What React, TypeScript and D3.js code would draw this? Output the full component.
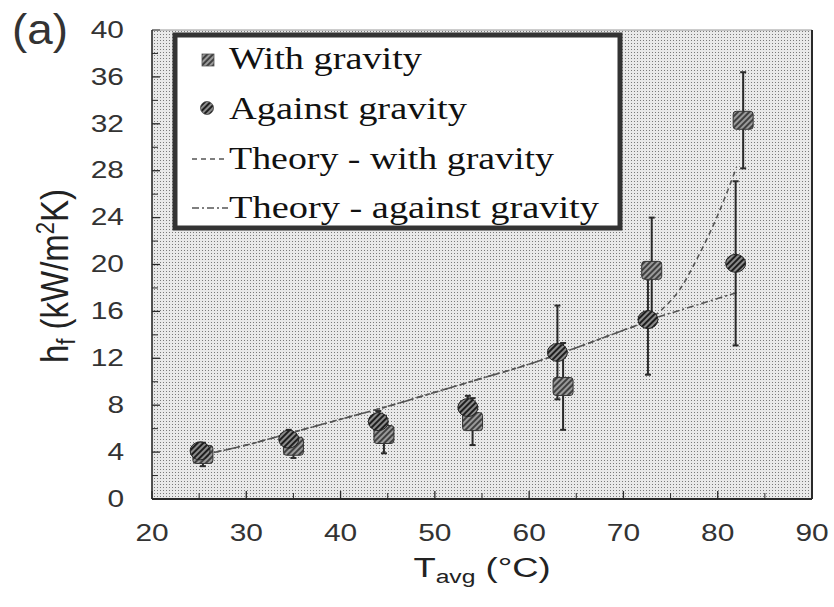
import React from "react";
import * as d3 from "d3";

const withX = [25.4, 35, 44.6, 54, 63.6, 73, 82.7];
const withY = [3.8, 4.5, 5.5, 6.6, 9.6, 19.5, 32.3];
const withErr = [1.0, 1.0, 1.6, 2.0, 3.7, 4.5, 4.1];

const againstX = [25.1, 34.5, 44, 53.5, 63, 72.6, 81.9];
const againstY = [4.1, 5.1, 6.6, 7.8, 12.5, 15.3, 20.1];
const againstErr = [0.7, 0.8, 0.9, 1.0, 4.0, 4.7, 7.0];

const theoryWithX = [25, 30, 35, 40, 45, 50, 55, 60, 65, 70, 72, 74, 76, 78, 80, 82];
const theoryWithY = [3.7, 4.6, 5.7, 6.8, 7.9, 9.1, 10.3, 11.5, 12.9, 14.4, 15.0, 16.1, 17.9, 20.8, 24.2, 28.3];
const theoryAgainstX = [25, 30, 35, 40, 45, 50, 55, 60, 65, 70, 72, 74, 76, 78, 80, 82];
const theoryAgainstY = [3.7, 4.6, 5.7, 6.8, 7.9, 9.1, 10.3, 11.5, 12.9, 14.4, 15.0, 15.6, 16.1, 16.6, 17.1, 17.6];

const xTicks = [20, 30, 40, 50, 60, 70, 80, 90];
const yTicks = [0, 4, 8, 12, 16, 20, 24, 28, 32, 36, 40];
const legendLabels = ["With gravity", "Against gravity", "Theory - with gravity", "Theory - against gravity"];
const legendWidths = [193, 238, 325, 370];

const W = 834, H = 607;
const SX = 1.3;
const x = d3.scaleLinear().domain([20, 90]).range([152, 812]);
const y = d3.scaleLinear().domain([0, 40]).range([499, 30]);

const SANS = "'Liberation Sans', Arial, sans-serif";
const SERIF = "'Liberation Serif', 'Times New Roman', serif";

export default function App() {
  const line = d3.line<number>().curve(d3.curveMonotoneX);
  const pathWith = line(theoryWithX.map((v, i) => [x(v), y(theoryWithY[i])]) as any);
  const pathAgainst = line(theoryAgainstX.map((v, i) => [x(v), y(theoryAgainstY[i])]) as any);
  const minorX = d3.range(25, 90, 10);
  const minorY = d3.range(2, 40, 4);
  const ink = "#2a2a2a";
  return (
    <svg width={W} height={H} style={{ position: "absolute", left: 0, top: 0, background: "#fff" }}>
      <defs>
        <pattern id="stip" width="3" height="3" patternUnits="userSpaceOnUse">
          <rect width="3" height="3" fill="#e9e9e9" />
          <rect x="1" y="1" width="1" height="1" fill="#7a7a7a" />
        </pattern>
        <pattern id="hatch" width="4" height="4" patternUnits="userSpaceOnUse" patternTransform="rotate(45)">
          <rect width="4" height="4" fill="#8a8a8a" />
          <line x1="1" y1="0" x2="1" y2="4" stroke="#111" strokeWidth="1.8" />
        </pattern>
        <pattern id="hatchSq" width="4" height="4" patternUnits="userSpaceOnUse" patternTransform="rotate(45)">
          <rect width="4" height="4" fill="#9a9a9a" />
          <line x1="1" y1="0" x2="1" y2="4" stroke="#222" strokeWidth="1.5" />
        </pattern>
      </defs>
      <rect x={152} y={30} width={660} height={469} fill="url(#stip)" />

      {xTicks.map((t) => (
        <line key={"xt" + t} x1={x(t)} x2={x(t)} y1={499} y2={491} stroke={ink} strokeWidth={1.3} />
      ))}
      {minorX.map((t) => (
        <line key={"xm" + t} x1={x(t)} x2={x(t)} y1={499} y2={493} stroke={ink} strokeWidth={1} />
      ))}
      {yTicks.map((t) => (
        <line key={"yt" + t} x1={152} x2={160} y1={y(t)} y2={y(t)} stroke={ink} strokeWidth={1.3} />
      ))}
      {minorY.map((t) => (
        <line key={"ym" + t} x1={152} x2={158} y1={y(t)} y2={y(t)} stroke={ink} strokeWidth={1} />
      ))}

      <path d={pathWith || ""} fill="none" stroke="#555" strokeWidth={1.6} strokeDasharray="5 4" />
      <path d={pathAgainst || ""} fill="none" stroke="#555" strokeWidth={1.6} strokeDasharray="7 3 2 3" />

      {withX.map((v, i) => (
        <g key={"we" + i} stroke={ink} strokeWidth={2}>
          <line x1={x(v)} x2={x(v)} y1={y(withY[i] - withErr[i])} y2={y(withY[i] + withErr[i])} />
          <line x1={x(v) - 3} x2={x(v) + 3} y1={y(withY[i] - withErr[i])} y2={y(withY[i] - withErr[i])} />
          <line x1={x(v) - 3} x2={x(v) + 3} y1={y(withY[i] + withErr[i])} y2={y(withY[i] + withErr[i])} />
        </g>
      ))}
      {againstX.map((v, i) => (
        <g key={"ae" + i} stroke={ink} strokeWidth={2}>
          <line x1={x(v)} x2={x(v)} y1={y(againstY[i] - againstErr[i])} y2={y(againstY[i] + againstErr[i])} />
          <line x1={x(v) - 3} x2={x(v) + 3} y1={y(againstY[i] - againstErr[i])} y2={y(againstY[i] - againstErr[i])} />
          <line x1={x(v) - 3} x2={x(v) + 3} y1={y(againstY[i] + againstErr[i])} y2={y(againstY[i] + againstErr[i])} />
        </g>
      ))}

      {withX.map((v, i) => (
        <rect key={"wm" + i} x={x(v) - 10} y={y(withY[i]) - 9} width={20} height={18} rx={3}
          fill="url(#hatchSq)" stroke="#333" strokeWidth={1} />
      ))}
      {againstX.map((v, i) => (
        <ellipse key={"am" + i} cx={x(v)} cy={y(againstY[i])} rx={10} ry={9}
          fill="url(#hatch)" stroke="#222" strokeWidth={1} />
      ))}

      <line x1={152} x2={812} y1={30} y2={30} stroke="#999" strokeWidth={1} />
      <line x1={152} x2={152} y1={30} y2={499} stroke={ink} strokeWidth={1.6} />
      <line x1={152} x2={812} y1={499} y2={499} stroke={ink} strokeWidth={2} />
      <line x1={812} x2={812} y1={30} y2={499} stroke={ink} strokeWidth={2} />

      <rect x={175} y={35} width={445} height={193} fill="#fff" stroke="#333" strokeWidth={5} />
      <rect x={202} y={54} width={12} height={12} fill="url(#hatchSq)" stroke="#555" strokeWidth={0.8} />
      <circle cx={207} cy={108} r={6.5} fill="url(#hatch)" stroke="#444" strokeWidth={0.8} />
      <line x1={192} x2={228} y1={159} y2={159} stroke="#555" strokeWidth={1.6} strokeDasharray="5 4" />
      <line x1={192} x2={228} y1={208} y2={208} stroke="#555" strokeWidth={1.6} strokeDasharray="7 3 2 3" />
      {legendLabels.map((t, i) => (
        <text key={"lg" + i} x={229} y={[69, 119, 169, 218][i]} fontFamily={SERIF} fontSize={31}
          fill="#111" textLength={legendWidths[i]} lengthAdjust="spacingAndGlyphs">{t}</text>
      ))}

      {yTicks.map((t) => (
        <g key={"yl" + t} transform={`translate(124,${y(t)}) scale(${SX},1)`}>
          <text x={0} y={0} textAnchor="end" dominantBaseline="central" fontFamily={SANS} fontSize={23} fill="#333">{t}</text>
        </g>
      ))}
      {xTicks.map((t) => (
        <g key={"xl" + t} transform={`translate(${x(t)},533) scale(${SX},1)`}>
          <text x={0} y={0} textAnchor="middle" dominantBaseline="central" fontFamily={SANS} fontSize={23} fill="#333">{t}</text>
        </g>
      ))}

      <g transform={`translate(482,577) scale(${SX},1)`}>
        <text textAnchor="middle" fontFamily={SANS} fontSize={28} fill="#222">
          T<tspan fontSize={19} dy={6}>avg</tspan><tspan dy={-6}> (°C)</tspan>
        </text>
      </g>
      <g transform={`translate(68,276) rotate(-90) scale(1,1.2)`}>
        <text textAnchor="middle" fontFamily={SANS} fontSize={33} fill="#222">
          h<tspan fontSize={22} dy={6}>f</tspan><tspan dy={-6}> (kW/m</tspan><tspan fontSize={22} dy={-12}>2</tspan><tspan dy={12}>K)</tspan>
        </text>
      </g>
      <text x={12} y={44} fontFamily={SANS} fontSize={42} fill="#333" textLength={56} lengthAdjust="spacingAndGlyphs">(a)</text>
    </svg>
  );
}
